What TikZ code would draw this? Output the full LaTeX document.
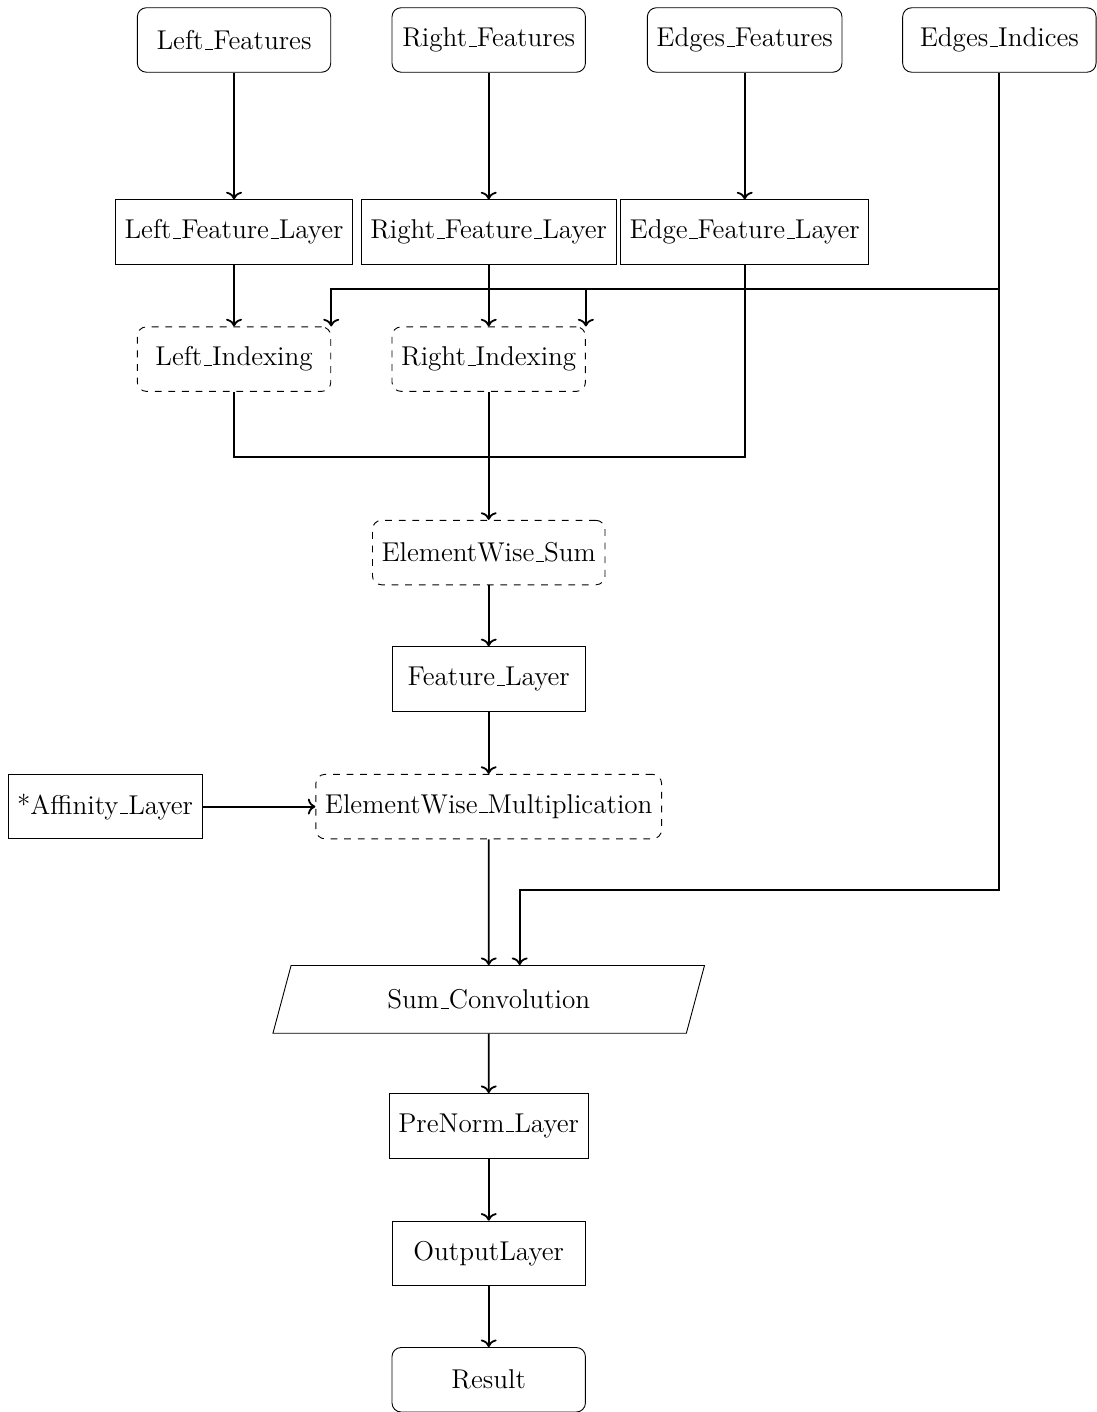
\documentclass[tikz,border=0pt,12pt]{standalone}
\usepackage{tikz}
\usetikzlibrary{shapes.geometric, positioning, arrows.meta}

% low underscore rule, as in the OT1 fonts
\newcommand{\us}{\leavevmode\kern.06em\vbox{\hrule width.3em}}

\begin{document}
\begin{tikzpicture}[
    inputbox/.style={draw, rounded corners, minimum width=3cm, minimum height=1cm},
    layerbox/.style={draw, minimum width=3cm, minimum height=1cm},
    opbox/.style={draw, dashed, rounded corners, minimum width=3cm, minimum height=1cm},
    convbox/.style={draw, trapezium, trapezium left angle=75, trapezium right angle=105, minimum width=6.7cm, minimum height=1cm},
    link/.style={->, thick}]
    \useasboundingbox (0,0) rectangle (17,-21.9);

    % Inputs
    \node[inputbox] (leftfeat) at (3.63,-0.62) {Left\us Features};
    \node[inputbox] (rightfeat) at (7.58,-0.62) {Right\us Features};
    \node[inputbox] (edgefeat) at (11.55,-0.62) {Edges\us Features};
    \node[inputbox] (edgeidx) at (15.50,-0.62) {Edges\us Indices};

    % Feature layers
    \node[layerbox] (leftlayer) at (3.63,-3.60) {Left\us Feature\us Layer};
    \node[layerbox] (rightlayer) at (7.58,-3.60) {Right\us Feature\us Layer};
    \node[layerbox] (edgelayer) at (11.55,-3.60) {Edge\us Feature\us Layer};

    % Indexing
    \node[opbox] (leftidx) at (3.63,-5.57) {Left\us Indexing};
    \node[opbox] (rightidx) at (7.58,-5.57) {Right\us Indexing};

    % Middle column
    \node[opbox] (esum) at (7.58,-8.57) {ElementWise\us Sum};
    \node[layerbox] (featlayer) at (7.58,-10.53) {Feature\us Layer};
    \node[opbox] (emult) at (7.58,-12.51) {ElementWise\us Multiplication};
    \node[layerbox] (affinity) at (1.63,-12.51) {*Affinity\us Layer};
    \node[convbox] (sumconv) at (7.58,-15.50) {Sum\us Convolution};
    \node[layerbox] (prenorm) at (7.58,-17.46) {PreNorm\us Layer};
    \node[layerbox] (outlayer) at (7.58,-19.44) {OutputLayer};
    \node[inputbox] (result) at (7.58,-21.40) {Result};

    % Bus points
    \coordinate (idxbus) at (15.50,-4.48);
    \coordinate (sumbus) at (7.58,-7.09);
    \coordinate (convbus) at (8.06,-13.80);

    % Inputs to layers
    \draw[link] (leftfeat) -- (leftlayer);
    \draw[link] (rightfeat) -- (rightlayer);
    \draw[link] (edgefeat) -- (edgelayer);
    \draw[link] (leftlayer) -- (leftidx);
    \draw[link] (rightlayer) -- (rightidx);

    % Indices
    \draw[thick] (edgeidx.south) -- (idxbus);
    \draw[link] (idxbus) -| (leftidx.north east);
    \draw[link] (rightidx.north east |- idxbus) -- (rightidx.north east);
    \draw[link] (idxbus) |- (convbus) -- (convbus |- sumconv.north);

    % Sum
    \draw[thick] (leftidx.south) |- (sumbus);
    \draw[thick] (edgelayer.south) |- (sumbus);
    \draw[link] (rightidx) -- (esum);

    \draw[link] (esum) -- (featlayer);
    \draw[link] (featlayer) -- (emult);
    \draw[link] (affinity) -- (emult);
    \draw[link] (emult) -- (sumconv);
    \draw[link] (sumconv) -- (prenorm);
    \draw[link] (prenorm) -- (outlayer);
    \draw[link] (outlayer) -- (result);
\end{tikzpicture}
\end{document}
